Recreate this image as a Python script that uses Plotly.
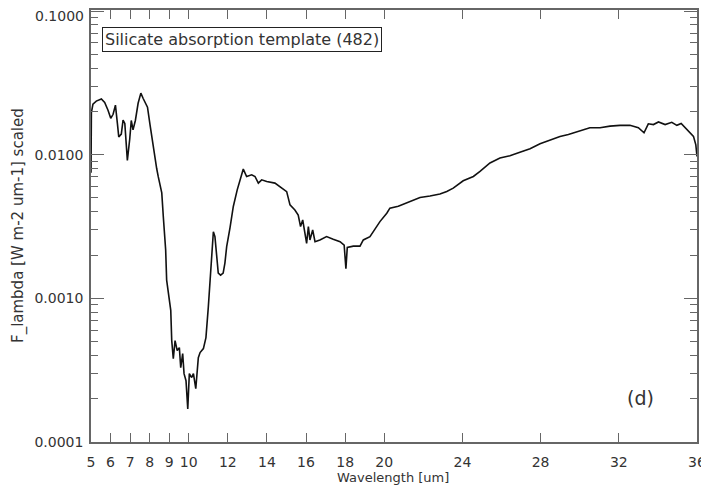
import plotly.graph_objects as go

wavelength = [5.00, 5.02, 5.10, 5.27, 5.53, 5.70, 5.87, 6.01, 6.13, 6.25, 6.35, 6.42, 6.55, 6.64, 6.73,
              6.81, 6.86, 6.98, 7.06, 7.15, 7.27, 7.41, 7.55, 7.67, 7.89, 8.02, 8.19, 8.36, 8.44, 8.62,
              8.70, 8.82, 8.87, 9.08, 9.13, 9.21, 9.30, 9.41, 9.52, 9.59, 9.69, 9.76, 9.86, 9.95, 10.03,
              10.15, 10.24, 10.36, 10.49, 10.58, 10.75, 10.88, 11.00, 11.12, 11.20, 11.26, 11.34, 11.43,
              11.51, 11.63, 11.76, 11.85, 11.94, 12.11, 12.28, 12.48, 12.66, 12.79, 12.96, 13.22, 13.39,
              13.56, 13.73, 13.99, 14.41, 14.75, 15.01, 15.18, 15.43, 15.60, 15.72, 15.83, 15.95, 16.03,
              16.12, 16.20, 16.34, 16.46, 16.71, 17.05, 17.39, 17.74, 17.95, 18.04, 18.11, 18.42, 18.76,
              18.93, 19.27, 19.53, 19.78, 20.13, 20.29, 20.72, 21.32, 21.83, 22.34, 22.85, 23.20, 23.53,
              24.04, 24.56, 24.90, 25.41, 25.92, 26.43, 26.94, 27.46, 27.97, 28.48, 28.99, 29.42, 30.01,
              30.52, 31.04, 31.55, 32.06, 32.57, 33.00, 33.29, 33.51, 33.77, 34.03, 34.37, 34.71, 34.97,
              35.19, 35.48, 35.82, 35.94, 36.00]
flux = [0.00748, 0.0196, 0.0225, 0.0236, 0.0244, 0.0231, 0.0204, 0.0179, 0.0191, 0.0221, 0.0165, 0.0133,
        0.0139, 0.0174, 0.0165, 0.0111, 0.00913, 0.0128, 0.0173, 0.0149, 0.0173, 0.0228, 0.0268, 0.0246,
        0.0214, 0.0161, 0.0110, 0.00801, 0.00703, 0.00542, 0.00368, 0.00217, 0.00134, 0.000824, 0.000508,
        0.000380, 0.000508, 0.000433, 0.000454, 0.000329, 0.000412, 0.000299, 0.000267, 0.000170,
        0.000299, 0.000281, 0.000299, 0.000235, 0.000386, 0.000419, 0.000447, 0.000533, 0.000865,
        0.00150, 0.00243, 0.00291, 0.00269, 0.00185, 0.00150, 0.00145, 0.00150, 0.00176, 0.00229,
        0.00309, 0.00436, 0.00569, 0.00687, 0.00794, 0.00705, 0.00724, 0.00705, 0.00634, 0.00668,
        0.00650, 0.00634, 0.00585, 0.00553, 0.00447, 0.00412, 0.00380, 0.00316, 0.00351, 0.00283,
        0.00241, 0.00316, 0.00255, 0.00299, 0.00248, 0.00255, 0.00269, 0.00258, 0.00248, 0.00235,
        0.00161, 0.00226, 0.00231, 0.00231, 0.00255, 0.00269, 0.00307, 0.00342, 0.00391, 0.00424,
        0.00437, 0.00471, 0.00504, 0.00516, 0.00533, 0.00555, 0.00585, 0.00658, 0.00705, 0.00764,
        0.00875, 0.00948, 0.00984, 0.0104, 0.0110, 0.0119, 0.0127, 0.0134, 0.0138, 0.0147, 0.0154,
        0.0154, 0.0158, 0.0160, 0.0160, 0.0154, 0.0142, 0.0164, 0.0162, 0.0169, 0.0162, 0.0168,
        0.0160, 0.0165, 0.0150, 0.0134, 0.0117, 0.00973]

x_tickvals = [5, 6, 7, 8, 9, 10, 12, 14, 16, 18, 20, 24, 28, 32, 36]
y_tickvals = [0.0001, 0.001, 0.01, 0.1]
y_ticktext = ["0.0001", "0.0010", "0.0100", "0.1000"]
y_minor = [m * d for d in (0.0001, 0.001, 0.01) for m in range(2, 10)]

label_box = "Silicate absorption template (482)"
panel_label = "(d)"
x_title = "Wavelength [um]"
y_title = "F_lambda [W m-2 um-1] scaled"

FONT = "DejaVu Sans"
TXT = "#333333"
AX = "#666666"

# The page body has an 8 px default margin, so the figure is sized/placed to compensate.
PLOT_W, PLOT_H = 606, 432

fig = go.Figure()
fig.add_trace(go.Scatter(x=wavelength, y=flux, mode="lines",
                         line=dict(color="#111111", width=1.6), showlegend=False))

# top label drawn as an annotation (slightly below the frame edge, as in the original)
axis_ticktext = y_ticktext[:-1] + [""]

fig.update_layout(
    width=701, height=480,
    margin=dict(l=83, r=12, t=2, b=46),
    paper_bgcolor="white", plot_bgcolor="white",
    font=dict(family=FONT, size=14, color=TXT),
    xaxis=dict(range=[5, 36], tickmode="array", tickvals=x_tickvals,
               ticktext=[str(v) for v in x_tickvals], automargin=False,
               ticklabeloverflow="allow",
               ticks="inside", ticklen=9, tickwidth=1, tickcolor=AX, ticklabelstandoff=6,
               showline=True, linecolor=AX, linewidth=1.5, mirror="allticks",
               showgrid=False, zeroline=False, tickfont=dict(size=14, color=TXT)),
    yaxis=dict(type="log", range=[-4, -0.993], tickmode="array", tickvals=y_tickvals,
               ticktext=axis_ticktext, automargin=False, ticklabelstandoff=3,
               ticklabeloverflow="allow",
               ticks="inside", ticklen=13, tickwidth=1, tickcolor=AX,
               showline=True, linecolor=AX, linewidth=1.5, mirror="allticks",
               showgrid=False, zeroline=False, tickfont=dict(size=14, color=TXT),
               minor=dict(tickmode="array", tickvals=y_minor, ticks="inside",
                          ticklen=7, tickwidth=1, tickcolor=AX, showgrid=False)),
    annotations=[
        dict(text=y_ticktext[-1], xref="paper", yref="paper", x=-5 / PLOT_W, y=(PLOT_H - 6) / PLOT_H,
             xanchor="right", yanchor="middle", showarrow=False, font=dict(size=14, color=TXT)),
        dict(text=label_box, xref="paper", yref="paper", x=11 / PLOT_W, y=(PLOT_H - 17) / PLOT_H,
             xanchor="left", yanchor="top", showarrow=False, bordercolor="#222222",
             borderwidth=1, borderpad=2, bgcolor="white", font=dict(size=16, color=TXT)),
        dict(text=panel_label, xref="paper", yref="paper", x=549 / PLOT_W, y=44 / PLOT_H,
             xanchor="center", yanchor="middle", showarrow=False, font=dict(size=19, color=TXT)),
        dict(text=x_title, xref="paper", yref="paper", x=302 / PLOT_W, y=-36 / PLOT_H,
             xanchor="center", yanchor="middle", showarrow=False, font=dict(size=13, color=TXT)),
        dict(text=y_title, xref="paper", yref="paper", x=-73 / PLOT_W, y=216 / PLOT_H,
             xanchor="center", yanchor="middle", textangle=-90, showarrow=False,
             font=dict(size=15, color=TXT)),
    ],
)

fig.write_html("out.html")
